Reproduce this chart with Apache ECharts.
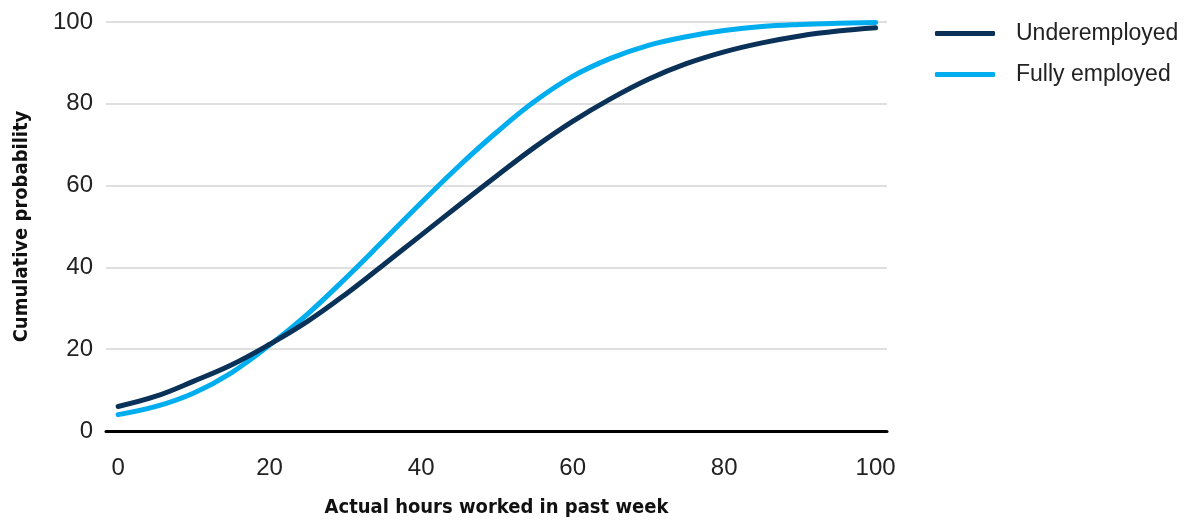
<!DOCTYPE html>
<html>
<head>
<meta charset="utf-8">
<script src="https://cdn.jsdelivr.net/npm/echarts@6/dist/echarts.min.js"></script>
<style>
html,body{margin:0;padding:0;background:#fff;}
#chart{width:1188px;height:525px;}
</style>
</head>
<body>
<div id="chart"></div>
<script>
const hours = [0,5,10,15,20,25,30,35,40,45,50,55,60,65,70,75,80,85,90,95,100];
const underemployed = [6.0,8.5,12.2,16.2,21.2,26.8,33.4,40.6,47.9,55.2,62.4,69.4,75.7,81.2,86.0,89.8,92.7,94.9,96.6,97.8,98.6];
const fullyEmployed = [4.0,6.0,9.3,14.3,21.0,28.6,37.3,46.5,55.8,64.8,73.1,80.6,86.7,91.1,94.3,96.4,97.9,98.9,99.4,99.7,99.9];
const xTicks = [0,20,40,60,80,100];
const seriesNames = ['Underemployed','Fully employed'];
const colors = ['#0a3158','#00aeef'];

const chart = echarts.init(document.getElementById('chart'));
const labelFont = "'Liberation Sans', Arial, sans-serif";
const nameFont = "'DejaVu Sans Condensed', 'Liberation Sans Narrow', 'Liberation Sans', Arial, sans-serif";
chart.setOption({
  animation: false,
  grid: {left: 106, right: 301, top: 22, bottom: 94},
  legend: {
    orient: 'vertical', left: 930, top: 17,
    itemWidth: 60, itemHeight: 5, itemGap: 18,
    icon: 'roundRect',
    textStyle: {fontFamily: labelFont, fontSize: 23, color: '#222', padding: [0,0,0,16], lineHeight: 20},
    data: seriesNames
  },
  xAxis: {
    type: 'value', min: -1.6, max: 101.5,
    name: 'Actual hours worked in past week', nameLocation: 'middle', nameGap: 67,
    nameTextStyle: {fontFamily: nameFont, fontWeight: 'bold', fontSize: 20, color: '#111'},
    axisLine: {show: true, lineStyle: {color: '#000', width: 3}},
    axisTick: {show: false},
    splitLine: {show: false},
    axisLabel: {customValues: xTicks, margin: 25, fontFamily: labelFont, fontSize: 24, color: '#222'}
  },
  yAxis: {
    type: 'value', min: 0, max: 100, interval: 20,
    name: 'Cumulative probability', nameLocation: 'middle', nameGap: 74, nameRotate: 90,
    nameTextStyle: {fontFamily: nameFont, fontWeight: 'bold', fontSize: 20, color: '#111'},
    axisLine: {show: false}, axisTick: {show: false},
    splitLine: {lineStyle: {color: '#d4d4d4', width: 1.5}},
    axisLabel: {margin: 13, fontFamily: labelFont, fontSize: 24, color: '#222'}
  },
  series: [
    {name: seriesNames[0], type: 'line', smooth: 0.4, showSymbol: false, z: 3,
     lineStyle: {color: colors[0], width: 5, cap: 'round'}, itemStyle: {color: colors[0]},
     data: hours.map((h,i)=>[h, underemployed[i]])},
    {name: seriesNames[1], type: 'line', smooth: 0.4, showSymbol: false, z: 2,
     lineStyle: {color: colors[1], width: 5, cap: 'round'}, itemStyle: {color: colors[1]},
     data: hours.map((h,i)=>[h, fullyEmployed[i]])}
  ]
});
</script>
</body>
</html>
